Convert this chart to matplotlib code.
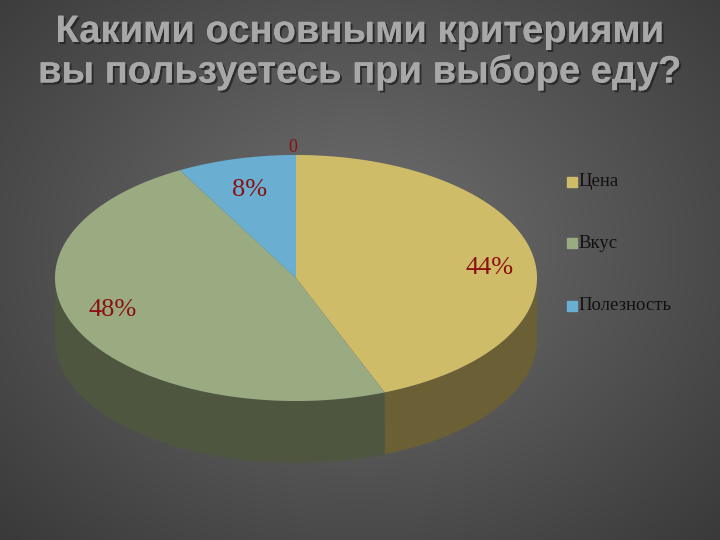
import numpy as np
import matplotlib
matplotlib.use("Agg")
import matplotlib.pyplot as plt
import matplotlib.patheffects as pe

title_lines = ["Какими основными критериями", "вы пользуетесь при выборе еду?"]
categories = ["Цена", "Вкус", "Полезность"]
values = [44, 48, 8]
labels = ["44%", "48%", "8%"]
top_colors = ["#cfbc68", "#9aab82", "#6aaed1"]
side_colors = ["#6b5f35", "#4f5640", "#3a5f70"]

fig = plt.figure(figsize=(7.2, 5.4), dpi=100)
ax = fig.add_axes([0, 0, 1, 1])
ax.set_xlim(0, 720); ax.set_ylim(540, 0); ax.axis("off")

# background radial gradient
yy, xx = np.mgrid[0:540, 0:720]
r = np.sqrt(((xx - 360) / 520) ** 2 + ((yy - 250) / 420) ** 2)
g = np.clip(0.44 - 0.22 * r, 0.2, 0.45)
ax.imshow(np.dstack([g, g, g]), extent=(0, 720, 540, 0), zorder=0)

cx, cy, rx, ry, depth = 296, 278, 241, 123, 62
fr = np.array(values) / sum(values)
edges = -90 + 360 * np.concatenate([[0], np.cumsum(fr)])

def pt(t):
    t = np.radians(t)
    return cx + rx * np.cos(t), cy + ry * np.sin(t)

# sides
for i in range(len(values)):
    a, b = max(edges[i], 0), min(edges[i + 1], 180)
    if b <= a:
        continue
    t = np.linspace(a, b, 100)
    x, y = pt(t)
    px = np.concatenate([x, x[::-1]]); py = np.concatenate([y, y[::-1] + depth])
    ax.fill(px, py, color=side_colors[i], zorder=1, lw=0)
# tops
for i in range(len(values)):
    t = np.linspace(edges[i], edges[i + 1], 200)
    x, y = pt(t)
    ax.fill(np.concatenate([[cx], x]), np.concatenate([[cy], y]), color=top_colors[i], zorder=2, lw=0)

red = "#8b1010"
ser = "Liberation Serif"
for txt, (x, y) in zip(labels, [(490, 268), (113, 310), (250, 190)]):
    ax.text(x, y, txt, color=red, fontsize=19, family=ser, ha="center", va="center", zorder=3)
ax.text(293, 147, "0", color=red, fontsize=13, family=ser, ha="center", va="center", zorder=3)

for i, (c, y) in enumerate(zip(categories, [182, 243, 306])):
    ax.add_patch(plt.Rectangle((567, y - 5), 10, 10, color=top_colors[i], zorder=3))
    ax.text(578, y, c, color="#111111", fontsize=13.5, family=ser, va="center", zorder=4)

for line, y in zip(title_lines, [32, 72]):
    ax.text(360, y, line, color="#a8a8a8", fontsize=27.5, fontweight="bold", family="Liberation Sans",
            ha="center", va="center", zorder=5,
            path_effects=[pe.withSimplePatchShadow(offset=(1.5, -1.5), shadow_rgbFace="#222222", alpha=0.8), pe.Normal()])

fig.savefig("out.png", dpi=100)
